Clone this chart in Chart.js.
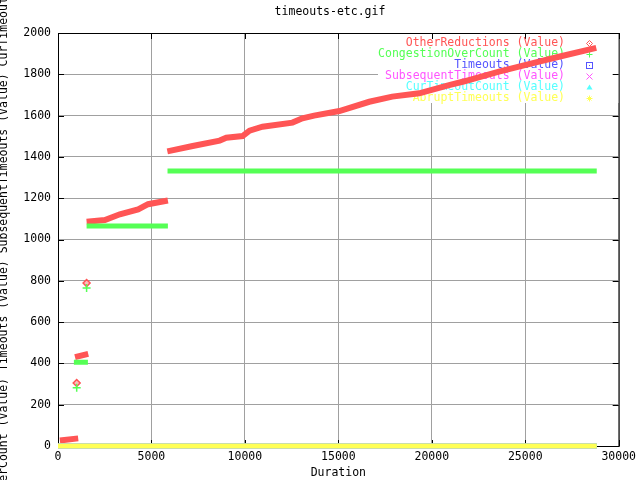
<!DOCTYPE html>
<html><head><meta charset="utf-8">
<script src="https://cdn.jsdelivr.net/npm/chart.js@4/dist/chart.umd.min.js"></script>
<style>html,body{margin:0;padding:0;background:#fff}canvas{display:block}</style>
</head><body>
<canvas id="c" width="640" height="480"></canvas>
<script>
// ---- text ----
const chartTitle = 'timeouts-etc.gif';
const xTitle = 'Duration';
const seriesNames = ['OtherReductions (Value)', 'CongestionOverCount (Value)', 'Timeouts (Value)',
  'SubsequentTimeouts (Value)', 'CurTimeoutCount (Value)', 'AbruptTimeouts (Value)'];
const seriesColors = ['#ff5555', '#55ff55', '#5555ff', '#ff55ff', '#55ffff', '#ffff55'];
const yTitle = seriesNames.join(' ');

// ---- axis ranges / ticks ----
const xMin = 0, xMax = 30000, xStep = 5000;
const yMin = 0, yMax = 2000, yStep = 200;

// ---- data (null = gap between runs) ----
const otherX = [100, 1080, null, 910, 1617, null,
  1530, 2509, 3310, 4286, 4820, 5880, null,
  5850, 7206, 8648, 9005, 9875, 10249, 10943, 12544, 13078, 13700, 15053, 16655, 17883, 19324, 20925, 21700, 23594, 25356, 26797, 28800];
const otherY = [27, 37, null, 430, 446, null,
  1086, 1094, 1122, 1146, 1171, 1189, null,
  1427, 1453, 1479, 1493, 1501, 1527, 1546, 1566, 1587, 1600, 1622, 1667, 1692, 1708, 1748, 1765, 1813, 1853, 1885, 1928];
const otherPtX = [1000, 1530];
const otherPtY = [305, 789];

const congX = [850, 1600, null, 1530, 5880, null, 5860, 28826];
const congY = [405, 405, null, 1065, 1065, null, 1332, 1332];
const congPtX = [1000, 1530];
const congPtY = [282, 765];

const timeoutsX = [0, 28826], timeoutsY = [0, 0];
const subseqX = [0, 28826], subseqY = [0, 0];
const curX = [0, 28826], curY = [0, 0];
const abruptX = [0, 28826], abruptY = [0, 0];

const FONT = 'DejaVu Sans Mono';
const FS = 11.5;

function pts(X, Y) {
  return X.map((x, i) => ({ x: x === null ? X[i - 1] : x, y: Y[i] }));
}

function lineDs(i, X, Y, w, order) {
  return { label: seriesNames[i], data: pts(X, Y), showLine: true, borderColor: seriesColors[i],
    backgroundColor: seriesColors[i], borderWidth: w, pointRadius: 0, spanGaps: false, order: order, clip: 8 };
}

const legendPlugin = {
  id: 'gp',
  beforeDatasetsDraw(chart) {
    const ctx = chart.ctx, a = chart.chartArea;
    const xs = chart.scales.x, ys = chart.scales.y;
    ctx.save();
    // legend box cleared
    ctx.fillStyle = '#fff';
    ctx.fillRect(378, a.top + 1, a.right - 378, 69);
    // border
    ctx.strokeStyle = '#000'; ctx.lineWidth = 1;
    ctx.strokeRect(a.left + 0.5, a.top + 0.5, a.right - a.left, a.bottom - a.top);
    // inward ticks
    ctx.beginPath();
    xs.ticks.forEach(t => {
      const p = Math.round(xs.getPixelForValue(t.value)) + 0.5;
      ctx.moveTo(p, a.bottom); ctx.lineTo(p, a.bottom - 6);
      ctx.moveTo(p, a.top); ctx.lineTo(p, a.top + 6);
    });
    ys.ticks.forEach(t => {
      const p = Math.round(ys.getPixelForValue(t.value)) + 0.5;
      ctx.moveTo(a.left, p); ctx.lineTo(a.left + 6, p);
      ctx.moveTo(a.right, p); ctx.lineTo(a.right - 6, p);
    });
    ctx.stroke();
    // legend entries
    ctx.font = FS + 'px "' + FONT + '"';
    ctx.textAlign = 'right'; ctx.textBaseline = 'middle';
    seriesNames.forEach((n, i) => {
      const y = 43 + 11 * i;
      ctx.fillStyle = seriesColors[i];
      ctx.fillText(n, 565, y);
      drawSym(ctx, i, 589.5, y + 0.5, seriesColors[i]);
    });
    ctx.restore();
  },
  afterDraw(chart) {
    const ctx = chart.ctx;
    ctx.save();
    ctx.fillStyle = '#000';
    ctx.font = FS + 'px "' + FONT + '"';
    ctx.textAlign = 'center'; ctx.textBaseline = 'middle';
    ctx.fillText(chartTitle, 330, 12);
    ctx.translate(4.5, 239.5);
    ctx.rotate(-Math.PI / 2);
    ctx.fillText(yTitle, 0, 0);
    ctx.restore();
  }
};

function drawSym(ctx, i, x, y, c) {
  ctx.save();
  ctx.strokeStyle = c; ctx.fillStyle = c; ctx.lineWidth = 1;
  ctx.beginPath();
  const r = 3;
  if (i === 0) {
    ctx.moveTo(x, y - r); ctx.lineTo(x + r, y); ctx.lineTo(x, y + r); ctx.lineTo(x - r, y); ctx.closePath();
    ctx.stroke(); ctx.fillRect(x - 0.5, y - 0.5, 1, 1);
  } else if (i === 1) {
    ctx.moveTo(x - r, y); ctx.lineTo(x + r, y); ctx.moveTo(x, y - r); ctx.lineTo(x, y + r); ctx.stroke();
  } else if (i === 2) {
    ctx.strokeRect(x - r, y - r, 2 * r, 2 * r); ctx.fillRect(x - 0.5, y - 0.5, 1, 1);
  } else if (i === 3) {
    ctx.moveTo(x - r, y - r); ctx.lineTo(x + r, y + r); ctx.moveTo(x + r, y - r); ctx.lineTo(x - r, y + r); ctx.stroke();
  } else if (i === 4) {
    ctx.moveTo(x, y - r); ctx.lineTo(x + r, y + 2); ctx.lineTo(x - r, y + 2); ctx.closePath(); ctx.fill();
  } else {
    ctx.moveTo(x - r, y); ctx.lineTo(x + r, y); ctx.moveTo(x, y - r); ctx.lineTo(x, y + r);
    ctx.moveTo(x - r + 1, y - r + 1); ctx.lineTo(x + r - 1, y + r - 1);
    ctx.moveTo(x + r - 1, y - r + 1); ctx.lineTo(x - r + 1, y + r - 1); ctx.stroke();
  }
  ctx.restore();
}

const tickFont = { family: FONT, size: FS };
const plain = v => String(v);

new Chart(document.getElementById('c'), {
  type: 'scatter',
  data: {
    datasets: [
      lineDs(0, otherX, otherY, 6, 11),
      { label: seriesNames[0], data: pts(otherPtX, otherPtY), showLine: false, pointStyle: 'rectRot',
        pointRadius: 3.5, pointBorderWidth: 1.5, borderColor: seriesColors[0], backgroundColor: 'rgba(255,85,85,0.4)', order: 10 },
      lineDs(1, congX, congY, 5, 9),
      { label: seriesNames[1], data: pts(congPtX, congPtY), showLine: false, pointStyle: 'cross',
        pointRadius: 4, pointBorderWidth: 1.5, borderColor: seriesColors[1], backgroundColor: seriesColors[1], order: 8 },
      lineDs(2, timeoutsX, timeoutsY, 5, 5),
      lineDs(3, subseqX, subseqY, 5, 4),
      lineDs(4, curX, curY, 5, 3),
      lineDs(5, abruptX, abruptY, 5, 1)
    ]
  },
  options: {
    responsive: false,
    animation: false,
    devicePixelRatio: 1,
    layout: { padding: { top: 33, right: 20, bottom: 0, left: 0 } },
    plugins: { legend: { display: false }, tooltip: { enabled: false }, title: { display: false } },
    scales: {
      x: {
        type: 'linear', min: xMin, max: xMax,
        ticks: { stepSize: xStep, color: '#000', font: tickFont, padding: 4, maxRotation: 0, autoSkip: false, callback: plain },
        grid: { color: '#a0a0a0', lineWidth: 1, drawTicks: false },
        border: { display: false },
        title: { display: true, text: xTitle, color: '#000', font: tickFont, padding: 0 },
        afterFit(s) { s.height = 34; }
      },
      y: {
        type: 'linear', min: yMin, max: yMax,
        ticks: { stepSize: yStep, color: '#000', font: tickFont, padding: 7, callback: plain },
        grid: { color: '#a0a0a0', lineWidth: 1, drawTicks: false },
        border: { display: false },
        afterFit(s) { s.width = 58; }
      }
    }
  },
  plugins: [legendPlugin]
});
</script>
</body></html>
